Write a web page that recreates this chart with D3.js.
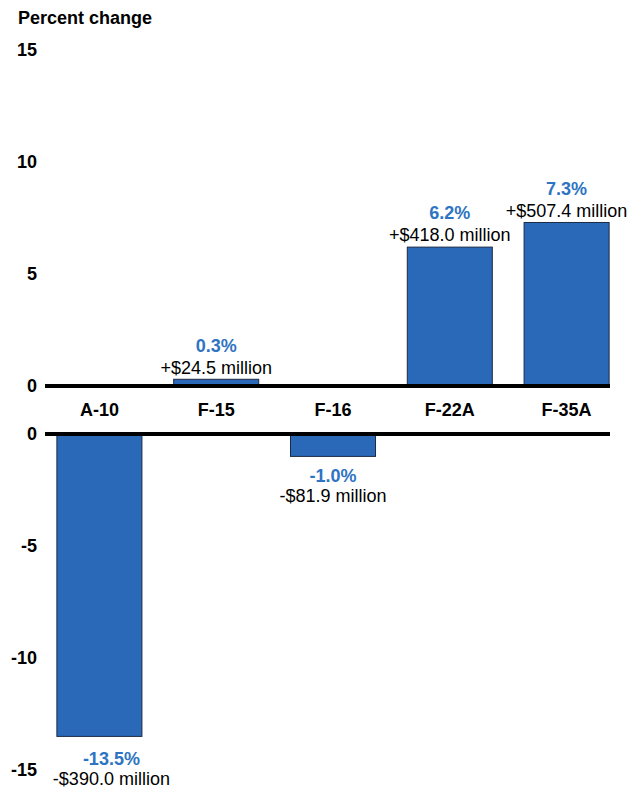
<!DOCTYPE html>
<html><head><meta charset="utf-8">
<script src="https://cdn.jsdelivr.net/npm/d3@7"></script>
<style>body{margin:0;background:#fff;}svg{display:block;font-family:"Liberation Sans",Arial,sans-serif;}</style>
</head><body>
<script>
const categories = ["A-10","F-15","F-16","F-22A","F-35A"];
const pctValues = [-13.5, 0.3, -1.0, 6.2, 7.3];
const pctLabels = ["-13.5%","0.3%","-1.0%","6.2%","7.3%"];
const dollarLabels = ["-$390.0 million","+$24.5 million","-$81.9 million","+$418.0 million","+$507.4 million"];
const upperTicks = [0,5,10,15];
const lowerTicks = [0,-5,-10,-15];

const W = 629, H = 791;
const svg = d3.select("body").append("svg").attr("width",W).attr("height",H);

const x = d3.scaleBand().domain(categories).range([41,625]).paddingInner(0.272).paddingOuter(0.136);
const yUp = d3.scaleLinear().domain([0,15]).range([386,50]);
const yDn = d3.scaleLinear().domain([0,-15]).range([434,770]);

const data = categories.map((c,i)=>({c, v:pctValues[i], p:pctLabels[i], d:dollarLabels[i]}));
const barFill = "#2969b8", barStroke = "#1b2a45", blue = "#2e74c2";
const FS = 18;
// label nudges (layout only)
const nudge = {"A-10":{dx:12, dy:3}};
const nx = d=>(nudge[d.c]||{dx:0}).dx, ny = d=>(nudge[d.c]||{dy:0}).dy;

svg.append("text").attr("x",18).attr("y",18).attr("dy","0.35em").attr("font-size",FS).attr("font-weight","bold").text("Percent change");

svg.selectAll(".tu").data(upperTicks).join("text")
  .attr("x",37).attr("y",d=>yUp(d)).attr("dy","0.35em").attr("text-anchor","end")
  .attr("font-size",FS).attr("font-weight","bold").text(d=>d);
svg.selectAll(".td").data(lowerTicks).join("text")
  .attr("x",37).attr("y",d=>yDn(d)).attr("dy","0.35em").attr("text-anchor","end")
  .attr("font-size",FS).attr("font-weight","bold").text(d=>d);

const pos = data.filter(d=>d.v>=0), neg = data.filter(d=>d.v<0);
svg.selectAll(".bu").data(pos).join("rect")
  .attr("x",d=>x(d.c)).attr("width",x.bandwidth())
  .attr("y",d=>yUp(d.v)).attr("height",d=>yUp(0)-yUp(d.v))
  .attr("fill",barFill).attr("stroke",barStroke).attr("stroke-width",1);
svg.selectAll(".bd").data(neg).join("rect")
  .attr("x",d=>x(d.c)).attr("width",x.bandwidth())
  .attr("y",yDn(0)).attr("height",d=>yDn(d.v)-yDn(0))
  .attr("fill",barFill).attr("stroke",barStroke).attr("stroke-width",1);

svg.append("line").attr("x1",45).attr("x2",610).attr("y1",yUp(0)).attr("y2",yUp(0)).attr("stroke","#000").attr("stroke-width",4);
svg.append("line").attr("x1",45).attr("x2",610).attr("y1",yDn(0)).attr("y2",yDn(0)).attr("stroke","#000").attr("stroke-width",4);

svg.selectAll(".cl").data(categories).join("text")
  .attr("x",d=>x(d)+x.bandwidth()/2).attr("y",410).attr("dy","0.35em")
  .attr("text-anchor","middle").attr("font-size",FS).attr("font-weight","bold").text(d=>d);

const cx = d=>x(d.c)+x.bandwidth()/2+nx(d);
svg.selectAll(".pu").data(pos).join("text")
  .attr("x",cx).attr("y",d=>yUp(d.v)-34).attr("dy","0.35em").attr("text-anchor","middle")
  .attr("font-size",FS).attr("font-weight","bold").attr("fill",blue).text(d=>d.p);
svg.selectAll(".du").data(pos).join("text")
  .attr("x",cx).attr("y",d=>yUp(d.v)-12).attr("dy","0.35em").attr("text-anchor","middle")
  .attr("font-size",FS).attr("fill","#000").text(d=>d.d);
svg.selectAll(".pd").data(neg).join("text")
  .attr("x",cx).attr("y",d=>yDn(d.v)+19+ny(d)).attr("dy","0.35em").attr("text-anchor","middle")
  .attr("font-size",FS).attr("font-weight","bold").attr("fill",blue).text(d=>d.p);
svg.selectAll(".dd").data(neg).join("text")
  .attr("x",cx).attr("y",d=>yDn(d.v)+39+ny(d)).attr("dy","0.35em").attr("text-anchor","middle")
  .attr("font-size",FS).attr("fill","#000").text(d=>d.d);
</script>
</body></html>
